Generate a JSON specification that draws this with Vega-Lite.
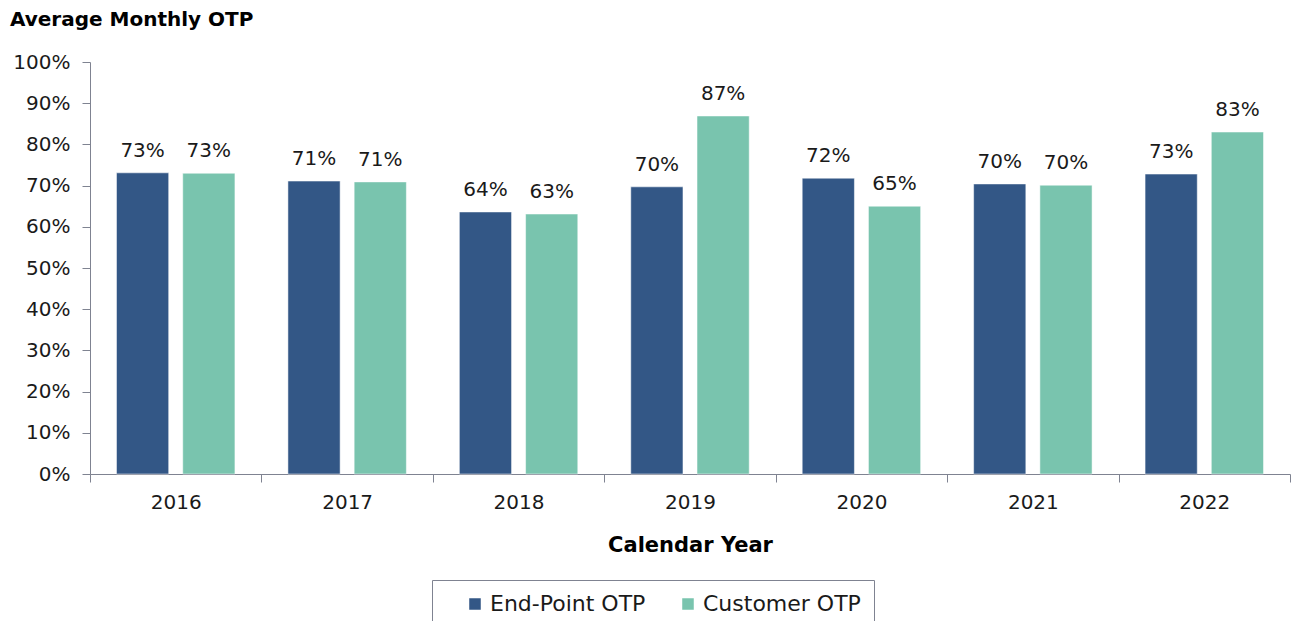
{
  "$schema": "https://vega.github.io/schema/vega-lite/v6.json",
  "width": 1200,
  "height": 412,
  "autosize": "none",
  "padding": {"left": 90, "top": 62, "right": 3, "bottom": 147},
  "background": "white",
  "config": {"font": "DejaVu Sans", "view": {"stroke": null}},
  "title": {"text": "Average Monthly OTP", "anchor": "start", "frame": "group", "dx": -80, "offset": 22, "fontSize": 20, "fontWeight": "bold", "color": "#000000", "font": "DejaVu Sans"},
  "data": {"values": [
    {"year": "2016", "series": "End-Point OTP", "value": 0.731},
    {"year": "2016", "series": "Customer OTP", "value": 0.730},
    {"year": "2017", "series": "End-Point OTP", "value": 0.711},
    {"year": "2017", "series": "Customer OTP", "value": 0.709},
    {"year": "2018", "series": "End-Point OTP", "value": 0.636},
    {"year": "2018", "series": "Customer OTP", "value": 0.631},
    {"year": "2019", "series": "End-Point OTP", "value": 0.697},
    {"year": "2019", "series": "Customer OTP", "value": 0.869},
    {"year": "2020", "series": "End-Point OTP", "value": 0.718},
    {"year": "2020", "series": "Customer OTP", "value": 0.650},
    {"year": "2021", "series": "End-Point OTP", "value": 0.704},
    {"year": "2021", "series": "Customer OTP", "value": 0.701},
    {"year": "2022", "series": "End-Point OTP", "value": 0.728},
    {"year": "2022", "series": "Customer OTP", "value": 0.830}
  ]},
  "encoding": {
    "x": {"field": "year", "type": "nominal", "title": "Calendar Year",
      "scale": {"paddingInner": 0, "paddingOuter": 0},
      "axis": {"labelAngle": 0, "tickBand": "extent", "tickSize": 8, "labelPadding": 10, "labelFontSize": 20, "labelColor": "#1a1a1a", "titleFontSize": 21, "titleFontWeight": "bold", "titleColor": "#000000", "titlePadding": 22, "domainColor": "#7f8391", "tickColor": "#7f8391", "grid": false}},
    "xOffset": {"field": "series", "type": "nominal", "sort": ["End-Point OTP", "Customer OTP"], "scale": {"paddingInner": 0.212, "paddingOuter": 0.4}},
    "y": {"field": "value", "type": "quantitative", "title": null,
      "scale": {"domain": [0, 1]},
      "axis": {"format": ".0%", "values": [0,0.1,0.2,0.3,0.4,0.5,0.6,0.7,0.8,0.9,1], "labelOverlap": false, "grid": false, "tickSize": 8, "labelPadding": 12, "labelFontSize": 20, "labelColor": "#1a1a1a", "domainColor": "#7f8391", "tickColor": "#7f8391"}}
  },
  "layer": [
    {"mark": {"type": "bar", "stroke": "white", "strokeWidth": 0.5},
     "encoding": {"color": {"field": "series", "type": "nominal", "sort": ["End-Point OTP", "Customer OTP"], "title": null,
       "scale": {"domain": ["End-Point OTP", "Customer OTP"], "range": ["#335786", "#79c4ae"]},
       "legend": {"orient": "none", "legendX": 342, "legendY": 518, "direction": "horizontal", "symbolType": "square", "symbolSize": 170, "labelFontSize": 22, "labelColor": "#1a1a1a", "strokeColor": "#7f8391", "padding": 13, "symbolOffset": 19, "columnPadding": 12, "labelOffset": 4, "labelLimit": 300}}}},
    {"mark": {"type": "text", "baseline": "bottom", "dy": -12, "fontSize": 20, "color": "#1a1a1a"},
     "encoding": {"text": {"field": "value", "type": "quantitative", "format": ".0%"}}}
  ]
}
